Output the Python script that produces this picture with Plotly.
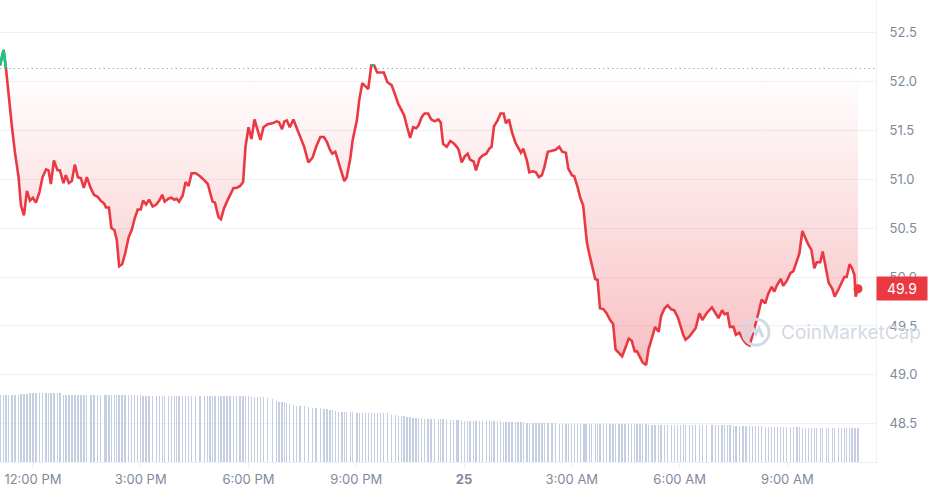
import pandas as pd
import plotly.graph_objects as go

# ---------------------------
# Data
# ---------------------------

start = pd.Timestamp("2024-03-24 11:05")
baseline = 52.13  # dotted reference price

# minutes after 11:05 AM
minutes = [
    0, 6, 10, 14, 20, 25, 31, 35, 40, 45,
    50, 55, 60, 66, 71, 77, 81, 85, 90, 96,
    100, 106, 110, 115, 120, 125, 130, 135, 140, 145,
    152, 157, 163, 168, 174, 177, 182, 186, 191, 195,
    199, 204, 209, 215, 220, 225, 230, 235, 239, 244,
    249, 255, 261, 266, 271, 275, 281, 286, 291, 295,
    299, 305, 310, 315, 320, 327, 334, 341, 347, 351,
    355, 359, 365, 369, 374, 379, 384, 390, 395, 401,
    406, 410, 415, 420, 425, 430, 435, 440, 447, 455,
    462, 466, 471, 475, 479, 484, 490, 495, 501, 508,
    515, 522, 528, 535, 541, 546, 551, 555, 560, 565,
    571, 575, 579, 585, 589, 596, 600, 605, 610, 615,
    620, 625, 630, 636, 641, 647, 654, 660, 665, 671,
    675, 680, 685, 690, 695, 699, 704, 709, 715, 720,
    726, 732, 736, 740, 746, 752, 757, 763, 766, 771,
    776, 781, 785, 791, 795, 801, 806, 812, 817, 821,
    825, 831, 836, 841, 845, 850, 855, 861, 865, 870,
    874, 880, 884, 890, 895, 900, 905, 909, 915, 922,
    928, 934, 939, 945, 949, 955, 959, 965, 969, 974,
    977, 980, 984, 988, 994, 998, 1002, 1008, 1013, 1019,
    1024, 1028, 1034, 1039, 1044, 1050, 1055, 1060, 1064, 1069,
    1073, 1079, 1083, 1089, 1094, 1100, 1104, 1110, 1115, 1121,
    1126, 1132, 1136, 1141, 1145, 1151, 1156, 1162, 1168, 1173,
    1180, 1189, 1195, 1200, 1206, 1210, 1215, 1219, 1225, 1229,
    1235, 1241, 1246, 1252, 1257, 1262, 1267, 1272, 1278, 1283,
    1289, 1293, 1298, 1304, 1308, 1314, 1320, 1325, 1331, 1335,
    1340, 1345, 1350, 1355, 1360, 1364, 1370, 1374, 1380, 1384,
    1390, 1394, 1400, 1405, 1410, 1414, 1419, 1423, 1427, 1429,
    1433,
]

price = [
    52.16, 52.32, 52.13, 51.88, 51.53, 51.27, 51.02, 50.73, 50.63, 50.88,
    50.78, 50.81, 50.76, 50.87, 51.02, 51.10, 51.09, 50.95, 51.19, 51.09,
    51.09, 50.96, 51.04, 50.96, 50.98, 51.15, 51.02, 51.01, 50.91, 51.02,
    50.90, 50.84, 50.82, 50.78, 50.75, 50.71, 50.71, 50.50, 50.48, 50.38,
    50.11, 50.13, 50.24, 50.41, 50.48, 50.60, 50.69, 50.69, 50.78, 50.74,
    50.79, 50.72, 50.74, 50.78, 50.84, 50.77, 50.80, 50.81, 50.79, 50.80,
    50.77, 50.83, 50.97, 50.93, 51.06, 51.06, 51.03, 50.99, 50.95, 50.86,
    50.77, 50.76, 50.61, 50.59, 50.70, 50.77, 50.83, 50.91, 50.91, 50.93,
    50.97, 51.33, 51.53, 51.41, 51.61, 51.50, 51.40, 51.53, 51.56, 51.57,
    51.59, 51.58, 51.51, 51.59, 51.60, 51.53, 51.61, 51.53, 51.43, 51.33,
    51.17, 51.22, 51.33, 51.43, 51.43, 51.38, 51.30, 51.26, 51.28, 51.18,
    51.07, 50.98, 51.02, 51.21, 51.40, 51.60, 51.81, 51.98, 51.95, 51.92,
    52.16, 52.16, 52.09, 52.09, 52.09, 51.99, 51.96, 51.86, 51.77, 51.70,
    51.65, 51.53, 51.42, 51.53, 51.52, 51.55, 51.63, 51.67, 51.67, 51.61,
    51.59, 51.61, 51.58, 51.36, 51.33, 51.39, 51.37, 51.33, 51.30, 51.17,
    51.23, 51.26, 51.20, 51.18, 51.09, 51.21, 51.24, 51.26, 51.31, 51.33,
    51.54, 51.60, 51.67, 51.67, 51.57, 51.61, 51.48, 51.37, 51.33, 51.27,
    51.31, 51.19, 51.07, 51.08, 51.07, 51.02, 51.04, 51.12, 51.28, 51.29,
    51.30, 51.33, 51.28, 51.27, 51.11, 51.04, 51.03, 50.91, 50.81, 50.73,
    50.51, 50.36, 50.24, 50.14, 49.98, 49.97, 49.68, 49.67, 49.63, 49.56,
    49.52, 49.26, 49.22, 49.19, 49.27, 49.37, 49.35, 49.24, 49.24, 49.17,
    49.13, 49.10, 49.26, 49.38, 49.49, 49.44, 49.60, 49.68, 49.71, 49.67,
    49.66, 49.59, 49.51, 49.41, 49.36, 49.39, 49.43, 49.48, 49.63, 49.56,
    49.63, 49.69, 49.63, 49.58, 49.66, 49.62, 49.63, 49.49, 49.49, 49.41,
    49.43, 49.36, 49.32, 49.30, 49.41, 49.52, 49.64, 49.77, 49.73, 49.83,
    49.90, 49.85, 49.92, 49.98, 49.91, 49.96, 50.04, 50.06, 50.17, 50.24,
    50.47, 50.40, 50.33, 50.28, 50.09, 50.15, 50.15, 50.26, 50.07, 49.94,
    49.88, 49.80, 49.87, 49.94, 50.00, 50.00, 50.13, 50.09, 50.02, 49.80,
    49.88,
]

# 24h volume (millions)
volume = [
    335, 335, 335, 335, 335, 335, 335, 340, 340, 340,
    345, 345, 345, 345, 345, 345, 345, 345, 345, 345,
    345, 335, 335, 335, 335, 335, 335, 335, 335, 335,
    335, 335, 335, 335, 335, 335, 335, 335, 335, 335,
    335, 335, 335, 335, 335, 335, 335, 335, 330, 330,
    330, 330, 330, 330, 330, 330, 330, 330, 330, 330,
    330, 330, 330, 330, 330, 330, 330, 330, 330, 330,
    330, 330, 330, 330, 330, 330, 330, 330, 330, 330,
    330, 330, 330, 325, 325, 325, 325, 325, 322, 315,
    305, 300, 300, 298, 295, 290, 285, 282, 280, 278,
    275, 272, 270, 268, 266, 265, 262, 260, 255, 250,
    250, 250, 248, 248, 248, 247, 247, 246, 246, 245,
    245, 245, 245, 245, 245, 245, 235, 235, 232, 230,
    228, 227, 225, 220, 220, 218, 218, 215, 215, 215,
    215, 215, 213, 213, 212, 212, 212, 210, 210, 210,
    205, 205, 205, 205, 205, 205, 205, 203, 203, 203,
    203, 203, 203, 200, 200, 200, 200, 200, 200, 200,
    200, 195, 195, 195, 195, 195, 195, 195, 195, 195,
    195, 190, 190, 190, 190, 190, 190, 190, 190, 190,
    190, 190, 190, 190, 190, 190, 190, 190, 190, 190,
    190, 190, 190, 190, 190, 190, 190, 190, 190, 190,
    190, 190, 185, 185, 185, 185, 185, 185, 185, 185,
    185, 185, 185, 185, 185, 185, 185, 185, 185, 185,
    185, 185, 185, 185, 185, 185, 185, 185, 182, 182,
    182, 182, 182, 182, 182, 182, 182, 182, 175, 175,
    175, 175, 175, 175, 175, 175, 175, 175, 175, 175,
    170, 170, 170, 170, 170, 170, 170, 170, 170, 170,
    170, 170, 170, 170, 170, 170, 170, 170, 170, 170,
    170,
]

tick_times = ["2024-03-24 12:00", "2024-03-24 15:00", "2024-03-24 18:00",
              "2024-03-24 21:00", "2024-03-25 00:00", "2024-03-25 03:00",
              "2024-03-25 06:00", "2024-03-25 09:00"]
tick_labels = ["12:00 PM", "3:00 PM", "6:00 PM", "9:00 PM", "<b>25</b>",
               "3:00 AM", "6:00 AM", "9:00 AM"]

last_label = "49.9"

# ---------------------------
# Figure
# ---------------------------

RED = "#ea3943"
GREEN = "#16c784"
GRID = "#eff2f5"
LABEL = "#808a9d"
MARK = "#d3d9e4"

times = start + pd.to_timedelta(minutes, unit="min")
green_y = [p if p >= baseline else None for p in price]

fig = go.Figure()

fig.add_trace(go.Bar(
    x=times, y=volume, yaxis="y2",
    width=36000, marker=dict(color="#c6cfe2", line_width=0),
    hoverinfo="skip", showlegend=False
))

fig.add_trace(go.Scatter(
    x=times, y=[baseline] * len(times),
    mode="lines", line=dict(width=0, color="rgba(0,0,0,0)"),
    hoverinfo="skip", showlegend=False
))

fig.add_trace(go.Scatter(
    x=times, y=price, mode="lines",
    line=dict(color=RED, width=2.6),
    fill="tonexty",
    fillgradient=dict(
        type="vertical",
        colorscale=[[0, "rgba(234,57,67,0.32)"], [1, "rgba(234,57,67,0.0)"]],
        start=49.1, stop=baseline,
    ),
    showlegend=False
))

fig.add_trace(go.Scatter(
    x=times, y=green_y, mode="lines",
    line=dict(color=GREEN, width=2.6),
    showlegend=False
))

fig.add_trace(go.Scatter(
    x=[times[-1]], y=[price[-1]], mode="markers",
    marker=dict(color=RED, size=9),
    showlegend=False
))

fig.add_shape(
    type="line", xref="paper", x0=0, x1=1, y0=baseline, y1=baseline,
    line=dict(color="#a7b1c2", width=1.2, dash="1.5px,3px"), layer="below"
)

# last price tag
fig.add_annotation(
    xref="paper", x=1, xanchor="left", y=price[-1], yanchor="middle",
    text=last_label, showarrow=False, bgcolor=RED,
    font=dict(color="white", size=14, family="Inter"),
    width=46, height=19, borderpad=2
)

# watermark
fig.add_annotation(
    xref="paper", yref="paper", x=0.889, y=0.281, xanchor="left",
    yanchor="middle", text="CoinMarketCap", showarrow=False,
    font=dict(color=MARK, size=19, family="Inter")
)
fig.add_shape(
    type="circle", xref="paper", yref="paper",
    xsizemode="pixel", ysizemode="pixel", xanchor=0.863, yanchor=0.281,
    x0=-13, x1=13, y0=-13, y1=13,
    line=dict(color=MARK, width=3), layer="above"
)
fig.add_shape(
    type="path", xref="paper", yref="paper",
    xsizemode="pixel", ysizemode="pixel", xanchor=0.863, yanchor=0.281,
    path="M -7 -5 L -3 4 L 0 -2 L 3 4 L 7 -5",
    line=dict(color=MARK, width=3), layer="above"
)

fig.update_layout(
    width=928, height=495,
    margin=dict(l=0, r=52, t=0, b=33),
    plot_bgcolor="white", paper_bgcolor="white",
    font=dict(family="Inter", color=LABEL, size=13),
    bargap=0,
    xaxis=dict(
        range=[start, start + pd.Timedelta(minutes=1463)],
        tickvals=tick_times, ticktext=tick_labels,
        showgrid=False, showline=True, linecolor=GRID, linewidth=1,
        ticks="outside", ticklen=5, tickcolor=GRID,
        tickfont=dict(size=13, color=LABEL),
        zeroline=False
    ),
    yaxis=dict(
        side="right", range=[48.11, 52.83],
        tick0=48.5, dtick=0.5, tickformat=".1f",
        showgrid=True, gridcolor=GRID, gridwidth=1,
        showline=True, linecolor=GRID, linewidth=1,
        ticks="", ticklabelstandoff=10,
        tickfont=dict(size=13, color=LABEL),
        zeroline=False
    ),
    yaxis2=dict(
        overlaying="y", range=[0, 2310], visible=False
    ),
)

fig.write_html(
    "out.html",
    config={"displayModeBar": False},
    post_script="document.body.style.margin='0';",
)
